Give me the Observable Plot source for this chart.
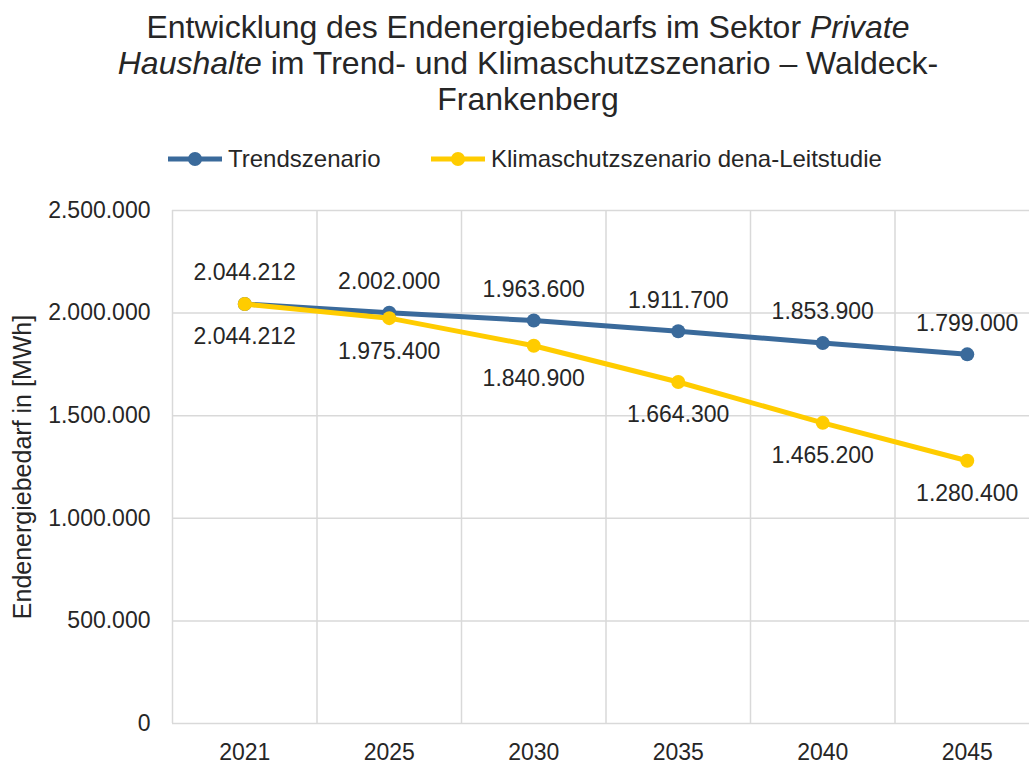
<!DOCTYPE html>
<html><head><meta charset="utf-8">
<script src="https://cdn.jsdelivr.net/npm/d3@7"></script>
<script src="https://cdn.jsdelivr.net/npm/@observablehq/plot@0.6"></script>
<style>
body{margin:0;background:#fff;font-family:"Liberation Sans",Arial,sans-serif;color:#262626;}
#wrap{position:relative;width:1029px;height:764px;overflow:hidden;}
#title{position:absolute;left:0;width:1056px;top:9px;text-align:center;font-family:"Liberation Sans",Arial,sans-serif;font-size:32px;line-height:36px;}
#legend{position:absolute;top:145px;left:0;height:28px;width:1029px;font-family:"Liberation Sans",Arial,sans-serif;font-size:24px;}
.lg{position:absolute;top:0;display:flex;align-items:center;height:28px;}
.lg svg{margin-right:6px;}
#chart{position:absolute;top:180px;left:0;}
</style></head>
<body><div id="wrap">
<div id="title">Entwicklung des Endenergiebedarfs im Sektor <i>Private<br>Haushalte</i> im Trend- und Klimaschutzszenario – Waldeck-<br>Frankenberg</div>
<div id="legend"></div>
<div id="chart"></div>
</div>
<script>
const years = ["2021","2025","2030","2035","2040","2045"];
const trend = [2044212, 2002000, 1963600, 1911700, 1853900, 1799000];
const klima = [2044212, 1975400, 1840900, 1664300, 1465200, 1280400];
const seriesNames = ["Trendszenario", "Klimaschutzszenario dena-Leitstudie"];
const yTicks = [0, 500000, 1000000, 1500000, 2000000, 2500000];
const yLabel = "Endenergiebedarf in [MWh]";
const colors = ["#3a6a9b", "#ffcc00"];

const de = d3.formatLocale({decimal: ",", thousands: ".", grouping: [3], currency: ["", "€"]});
const fmt = de.format(",d");

const rows = (vals, name) => vals.map((v, i) => ({i, year: years[i], v, s: name}));
const tData = rows(trend, seriesNames[0]);
const kData = rows(klima, seriesNames[1]);

// legend
const leg = document.getElementById("legend");
const legPos = [168, 431];
seriesNames.forEach((n, k) => {
  const d = document.createElement("div");
  d.className = "lg";
  d.style.left = legPos[k] + "px";
  d.innerHTML = `<svg width="54" height="28"><line x1="0" x2="54" y1="14" y2="14" stroke="${colors[k]}" stroke-width="5" stroke-linecap="round"/><circle cx="27" cy="14" r="7" fill="${colors[k]}"/></svg><span>${n}</span>`;
  leg.appendChild(d);
});

const gridCol = "#d9d9d9";
const chart = Plot.plot({
  width: 1029,
  height: 584,
  marginTop: 30,
  marginBottom: 41,
  marginLeft: 172,
  marginRight: 0,
  style: {fontFamily: "'Liberation Sans', Arial, sans-serif", color: "#262626", background: "transparent"},
  x: {domain: [-0.5, 5.5], range: [172, 1039]},
  y: {domain: [0, 2500000]},
  marks: [
    Plot.ruleY(yTicks, {stroke: gridCol, strokeWidth: 1.5}),
    Plot.ruleX(d3.range(-0.5, 6, 1), {y1: 0, y2: 2500000, stroke: gridCol, strokeWidth: 1.5}),
    Plot.axisY({ticks: yTicks, tickFormat: fmt, tickSize: 0, tickPadding: 22, fontSize: 23, label: null}),
    Plot.axisX({ticks: d3.range(6), tickFormat: i => years[i], tickSize: 0, tickPadding: 20, fontSize: 23, label: null}),
    Plot.text([yLabel], {frameAnchor: "left", rotate: -90, dx: -150, fontSize: 25, textAnchor: "middle", fill: "#262626"}),
    Plot.line(tData, {x: "i", y: "v", stroke: colors[0], strokeWidth: 5}),
    Plot.dot(tData, {x: "i", y: "v", r: 7, fill: colors[0]}),
    Plot.line(kData, {x: "i", y: "v", stroke: colors[1], strokeWidth: 5}),
    Plot.dot(kData, {x: "i", y: "v", r: 7, fill: colors[1]}),
    Plot.text(tData, {x: "i", y: "v", text: d => fmt(d.v), dy: -31, fontSize: 23, fill: "#262626"}),
    Plot.text(kData, {x: "i", y: "v", text: d => fmt(d.v), dy: 33, fontSize: 23, fill: "#262626"})
  ]
});
document.getElementById("chart").appendChild(chart);
</script>
</body></html>
